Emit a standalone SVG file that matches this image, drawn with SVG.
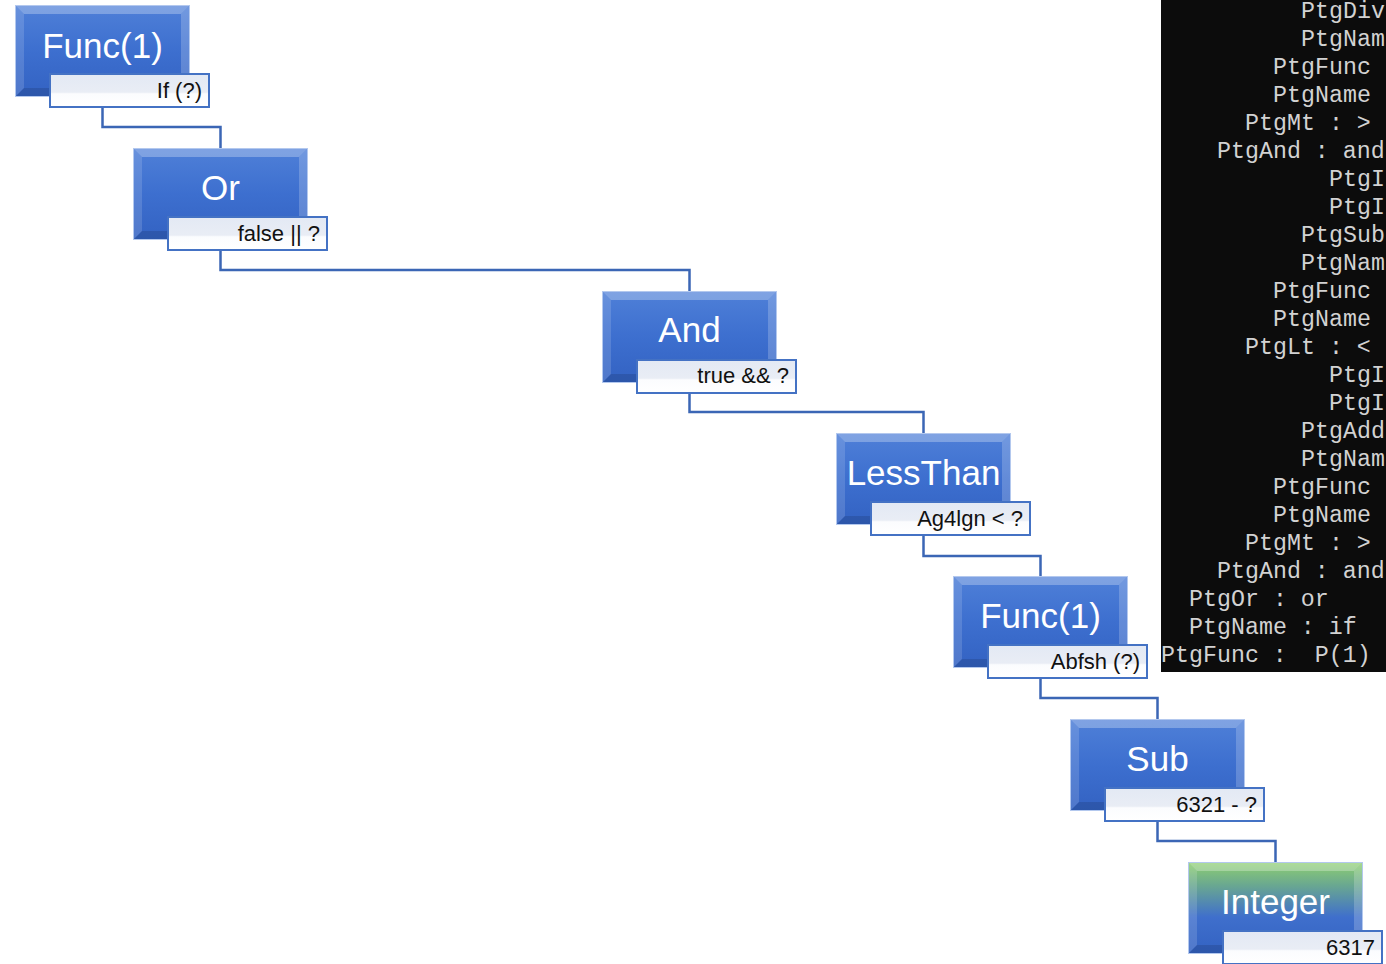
<svg xmlns="http://www.w3.org/2000/svg" xmlns:xlink="http://www.w3.org/1999/xlink" width="1386" height="964" viewBox="0 0 1386 964">
<style>
.main{font-family:"Liberation Sans",Arial,sans-serif;font-size:35px;fill:#ffffff;text-anchor:middle}
.lbl{font-family:"Liberation Sans",Arial,sans-serif;font-size:22px;fill:#111111;text-anchor:end}
.lbox{fill:url(#gLabel);stroke:#4472c4;stroke-width:2}
.conn{fill:none;stroke:#3b66b5;stroke-width:2.5}
.con{font-family:"Liberation Mono","DejaVu Sans Mono",monospace;font-size:23.3px;fill:#d2d2d2}
</style>
<defs>
<linearGradient id="gBlue" x1="0" y1="0" x2="0" y2="1">
<stop offset="0" stop-color="#4f80d8"/>
<stop offset="0.5" stop-color="#3d6fcf"/>
<stop offset="1" stop-color="#3362c2"/>
</linearGradient>
<linearGradient id="gGreen" x1="0" y1="0" x2="0" y2="1">
<stop offset="0" stop-color="#8fd070"/>
<stop offset="0.25" stop-color="#6aa890"/>
<stop offset="0.6" stop-color="#3f6fcc"/>
<stop offset="1" stop-color="#3362c2"/>
</linearGradient>
<linearGradient id="gLabel" x1="0" y1="0" x2="0" y2="1">
<stop offset="0" stop-color="#e3e9f4"/>
<stop offset="0.55" stop-color="#e9edf5"/>
<stop offset="0.6" stop-color="#fbfcfe"/>
<stop offset="1" stop-color="#ffffff"/>
</linearGradient>
<g id="bevel">
<polygon points="0,0 175,0 166,9 9,9" fill="#ffffff" fill-opacity="0.28"/>
<polygon points="0,0 9,9 9,83 0,92" fill="#ffffff" fill-opacity="0.14"/>
<polygon points="175,0 175,92 166,83 166,9" fill="#ffffff" fill-opacity="0.2"/>
<polygon points="0,92 9,83 166,83 175,92" fill="#000000" fill-opacity="0.12"/>
<rect x="0.5" y="0.5" width="174" height="91" fill="none" stroke="#b3c8ee" stroke-width="1"/>
</g>
<rect id="boxB" x="0" y="0" width="175" height="92" fill="url(#gBlue)"/>
<rect id="boxG" x="0" y="0" width="175" height="92" fill="url(#gGreen)"/>
</defs>
<rect x="0" y="0" width="1386" height="964" fill="#ffffff"/>

<g id="connectors">
<path class="conn" d="M102.5,107 V127 H220.5 V148"/>
<path class="conn" d="M220.5,250 V270 H689.5 V291"/>
<path class="conn" d="M689.5,393 V412 H923.5 V433"/>
<path class="conn" d="M923.5,535 V556 H1040.5 V576"/>
<path class="conn" d="M1040.5,678 V698 H1157.5 V719"/>
<path class="conn" d="M1157.5,821 V841 H1275.5 V862"/>
</g>

<g id="node-func1" transform="translate(15,5)">
<use xlink:href="#boxB"/><use xlink:href="#bevel"/>
<text class="main" x="87.5" y="53">Func(1)</text>
<rect class="lbox" x="35" y="69" width="159" height="33"/>
<text class="lbl" x="187" y="93">If (?)</text>
</g>

<g id="node-or" transform="translate(133,148)">
<use xlink:href="#boxB"/><use xlink:href="#bevel"/>
<text class="main" x="87.5" y="52">Or</text>
<rect class="lbox" x="35" y="69" width="159" height="33"/>
<text class="lbl" x="187" y="93">false || ?</text>
</g>

<g id="node-and" transform="translate(602,291)">
<use xlink:href="#boxB"/><use xlink:href="#bevel"/>
<text class="main" x="87.5" y="51">And</text>
<rect class="lbox" x="35" y="69" width="159" height="33"/>
<text class="lbl" x="187" y="92">true &amp;&amp; ?</text>
</g>

<g id="node-lessthan" transform="translate(836,433)">
<use xlink:href="#boxB"/><use xlink:href="#bevel"/>
<text class="main" x="87.5" y="52">LessThan</text>
<rect class="lbox" x="35" y="69" width="159" height="33"/>
<text class="lbl" x="187" y="93">Ag4lgn &lt; ?</text>
</g>

<g id="node-func2" transform="translate(953,576)">
<use xlink:href="#boxB"/><use xlink:href="#bevel"/>
<text class="main" x="87.5" y="52">Func(1)</text>
<rect class="lbox" x="35" y="69" width="159" height="33"/>
<text class="lbl" x="187" y="93">Abfsh (?)</text>
</g>

<g id="node-sub" transform="translate(1070,719)">
<use xlink:href="#boxB"/><use xlink:href="#bevel"/>
<text class="main" x="87.5" y="52">Sub</text>
<rect class="lbox" x="35" y="69" width="159" height="33"/>
<text class="lbl" x="187" y="93">6321 - ?</text>
</g>

<g id="node-integer" transform="translate(1188,862)">
<use xlink:href="#boxG"/><use xlink:href="#bevel"/>
<text class="main" x="87.5" y="52">Integer</text>
<rect class="lbox" x="35" y="69" width="159" height="33"/>
<text class="lbl" x="187" y="93">6317</text>
</g>

<g id="console">
<rect x="1161" y="0" width="225" height="672" fill="#0c0c0c"/>
<text class="con" x="1301" y="18">PtgDiv</text>
<text class="con" x="1301" y="46">PtgNam</text>
<text class="con" x="1273" y="74">PtgFunc</text>
<text class="con" x="1273" y="102">PtgName</text>
<text class="con" x="1245" y="130">PtgMt : &gt;</text>
<text class="con" x="1217" y="158">PtgAnd : and</text>
<text class="con" x="1329" y="186">PtgI</text>
<text class="con" x="1329" y="214">PtgI</text>
<text class="con" x="1301" y="242">PtgSub</text>
<text class="con" x="1301" y="270">PtgNam</text>
<text class="con" x="1273" y="298">PtgFunc</text>
<text class="con" x="1273" y="326">PtgName</text>
<text class="con" x="1245" y="354">PtgLt : &lt;</text>
<text class="con" x="1329" y="382">PtgI</text>
<text class="con" x="1329" y="410">PtgI</text>
<text class="con" x="1301" y="438">PtgAdd</text>
<text class="con" x="1301" y="466">PtgNam</text>
<text class="con" x="1273" y="494">PtgFunc</text>
<text class="con" x="1273" y="522">PtgName</text>
<text class="con" x="1245" y="550">PtgMt : &gt;</text>
<text class="con" x="1217" y="578">PtgAnd : and</text>
<text class="con" x="1189" y="606">PtgOr : or</text>
<text class="con" x="1189" y="634">PtgName : if</text>
<text class="con" x="1161" y="662" xml:space="preserve">PtgFunc :  P(1)</text>
</g>
</svg>
